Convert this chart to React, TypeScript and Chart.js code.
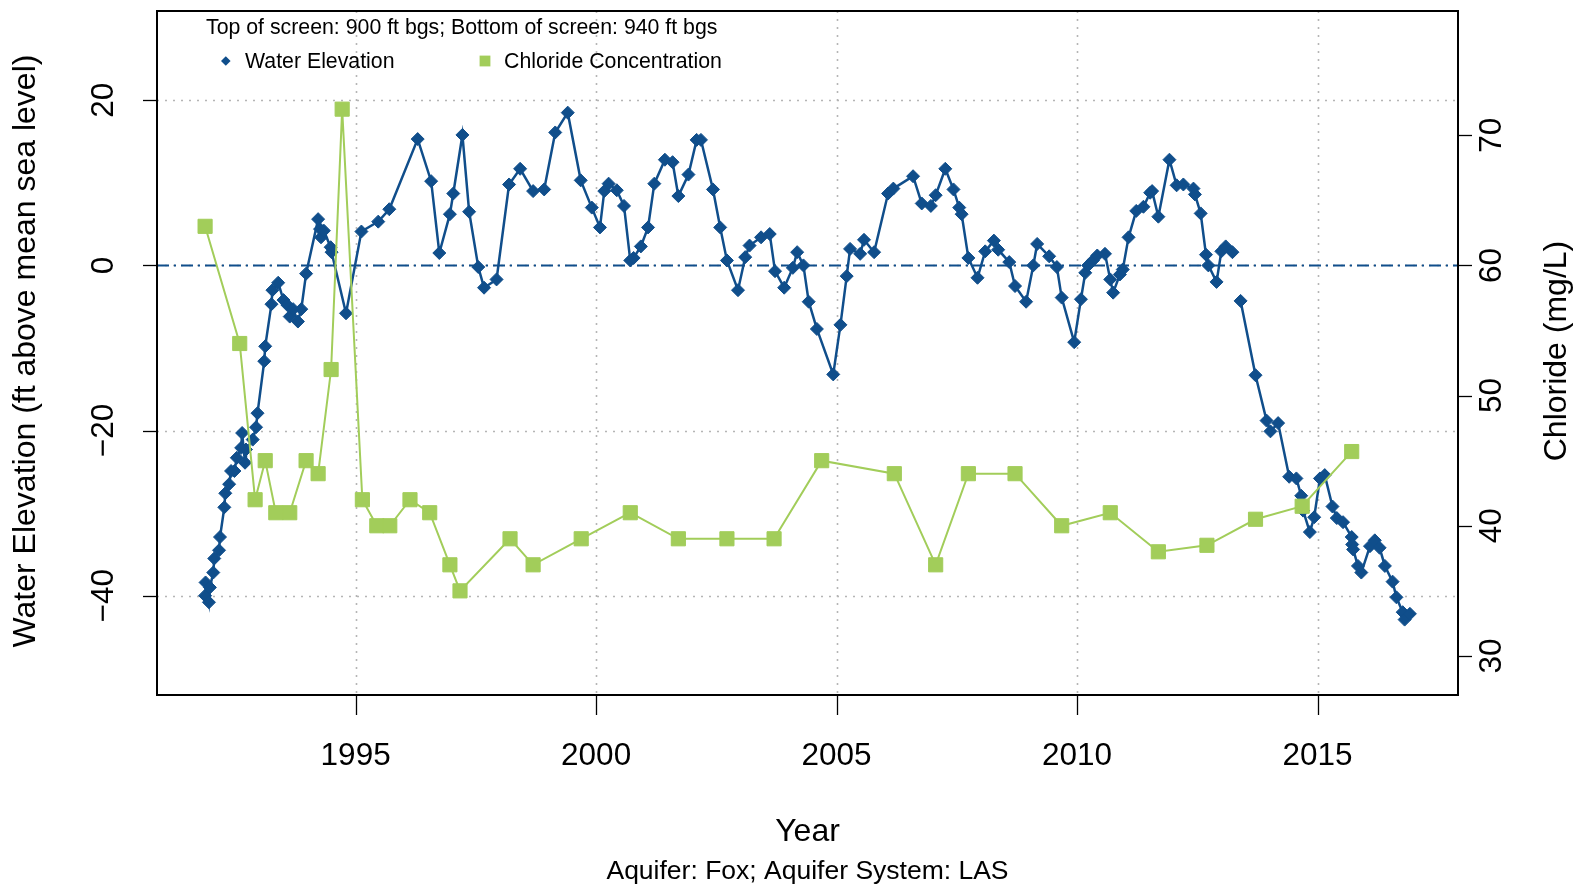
import React, { useEffect, useRef } from 'react';
import { Chart, registerables } from 'chart.js';

Chart.register(...registerables);

// ---- Data ----
const waterYears = [
  1991.87, 1991.88, 1991.95, 1991.97, 1992.04, 1992.06, 1992.16, 1992.18, 1992.27, 1992.29,
  1992.37, 1992.41, 1992.48, 1992.53, 1992.62, 1992.64, 1992.70, 1992.72, 1992.86, 1992.93,
  1992.96, 1993.10, 1993.12, 1993.25, 1993.27, 1993.39, 1993.50, 1993.58, 1993.63, 1993.70,
  1993.80, 1993.87, 1993.97, 1994.22, 1994.26, 1994.28, 1994.34, 1994.48, 1994.50, 1994.80,
  1995.12, 1995.47, 1995.70, 1996.29, 1996.57, 1996.74, 1996.96, 1997.03, 1997.22, 1997.36,
  1997.55, 1997.67, 1997.93, 1998.19, 1998.42, 1998.69, 1998.92, 1999.15, 1999.41, 1999.68,
  1999.91, 2000.08, 2000.17, 2000.26, 2000.43, 2000.58, 2000.71, 2000.78, 2000.93, 2001.08,
  2001.21, 2001.43, 2001.59, 2001.71, 2001.92, 2002.09, 2002.18, 2002.43, 2002.58, 2002.72,
  2002.95, 2003.10, 2003.19, 2003.43, 2003.61, 2003.72, 2003.91, 2004.09, 2004.18, 2004.31,
  2004.42, 2004.59, 2004.93, 2005.08, 2005.21, 2005.28, 2005.49, 2005.57, 2005.78, 2006.07,
  2006.18, 2006.59, 2006.77, 2006.96, 2007.06, 2007.26, 2007.43, 2007.55, 2007.60, 2007.74,
  2007.93, 2008.09, 2008.27, 2008.36, 2008.59, 2008.71, 2008.94, 2009.09, 2009.17, 2009.42,
  2009.58, 2009.68, 2009.94, 2010.08, 2010.17, 2010.23, 2010.33, 2010.42, 2010.58, 2010.69,
  2010.75, 2010.89, 2010.95, 2011.07, 2011.23, 2011.38, 2011.52, 2011.56, 2011.69, 2011.92,
  2012.07, 2012.21, 2012.42, 2012.45, 2012.57, 2012.68, 2012.73, 2012.90, 2013.00, 2013.09,
  2013.23, 2013.40, 2013.71, 2013.94, 2014.02, 2014.18, 2014.41, 2014.56, 2014.66, 2014.70,
  2014.84, 2014.93, 2015.05, 2015.15, 2015.31, 2015.40, 2015.53, 2015.71, 2015.72, 2015.74,
  2015.84, 2015.91, 2016.09, 2016.19, 2016.29, 2016.40, 2016.56, 2016.64, 2016.77, 2016.81,
  2016.92,
];
const waterLevels = [
  -40.0, -38.4, -40.8, -39.0, -37.2, -35.5, -34.5, -32.9, -29.3, -27.6,
  -26.5, -24.9, -24.9, -23.3, -22.1, -20.3, -23.9, -22.3, -21.1, -19.6,
  -17.9, -11.6, -9.8, -4.7, -3.0, -2.1, -4.2, -4.8, -6.2, -5.3,
  -6.8, -5.3, -1.0, 5.6, 4.4, 3.4, 4.2, 2.2, 1.6, -5.8,
  4.1, 5.3, 6.8, 15.3, 10.2, 1.5, 6.2, 8.7, 15.8, 6.5,
  -0.2, -2.7, -1.7, 9.8, 11.7, 9.0, 9.2, 16.1, 18.5, 10.3,
  7.0, 4.6, 9.0, 9.9, 9.1, 7.2, 0.6, 0.9, 2.3, 4.6,
  9.9, 12.8, 12.5, 8.4, 11.0, 15.2, 15.2, 9.2, 4.6, 0.6,
  -3.0, 1.0, 2.4, 3.4, 3.8, -0.7, -2.7, -0.3, 1.6, 0.0,
  -4.4, -7.7, -13.2, -7.2, -1.3, 2.0, 1.4, 3.1, 1.6, 8.7,
  9.3, 10.8, 7.5, 7.2, 8.5, 11.7, 9.2, 7.0, 6.2, 0.9,
  -1.5, 1.7, 3.0, 1.9, 0.4, -2.5, -4.4, 0.0, 2.6, 1.1,
  -0.2, -3.9, -9.3, -4.1, -0.9, 0.0, 0.6, 1.2, 1.4, -1.7,
  -3.3, -1.1, -0.5, 3.4, 6.6, 7.1, 8.8, 9.0, 5.9, 12.8,
  9.7, 9.8, 9.3, 8.6, 6.3, 1.3, 0.0, -2.0, 1.7, 2.3,
  1.6, -4.3, -13.3, -18.8, -20.1, -19.1, -25.6, -25.8, -27.9, -29.7,
  -32.3, -30.5, -25.8, -25.4, -29.2, -30.6, -31.1, -32.9, -33.8, -34.4,
  -36.4, -37.2, -34.0, -33.3, -34.2, -36.4, -38.3, -40.2, -42.0, -42.9,
  -42.2,
];
// the water-level line is not drawn across this date
const waterBreaks = [2013.3];

const chlorideYears = [
  1991.87, 1992.59, 1992.91, 1993.12, 1993.34, 1993.63, 1993.97, 1994.22, 1994.49, 1994.72,
  1995.14, 1995.44, 1995.71, 1996.13, 1996.54, 1996.96, 1997.17, 1998.21, 1998.69, 1999.69,
  2000.71, 2001.71, 2002.72, 2003.70, 2004.69, 2006.20, 2007.06, 2007.74, 2008.71, 2009.68,
  2010.69, 2011.69, 2012.70, 2013.71, 2014.68, 2015.71,
];
const chlorideValues = [
  63, 54, 42, 45, 41, 41, 45, 44, 52, 72,
  42, 40, 40, 42, 41, 37, 35, 39, 37, 39,
  41, 39, 39, 39, 45, 44, 37, 44, 44, 40,
  41, 38, 38.5, 40.5, 41.5, 45.7,
];

const xTicks = [1995, 2000, 2005, 2010, 2015];
const leftTicks = [-40, -20, 0, 20];
const rightTicks = [30, 40, 50, 60, 70];

const titleText = 'Top of screen: 900 ft bgs; Bottom of screen: 940 ft bgs';
const waterLabel = 'Water Elevation';
const chlorideLabel = 'Chloride Concentration';
const xTitle = 'Year';
const yTitle = 'Water Elevation (ft above mean sea level)';
const y2Title = 'Chloride (mg/L)';
const subTitle = 'Aquifer: Fox; Aquifer System: LAS';

const BLUE = '#104E8B';
const GREEN = '#A2CD5A';
const FONT = '"Liberation Sans", Arial, Helvetica, sans-serif';

const fmt = (v: number) => (v < 0 ? '\u2212' + Math.abs(v) : String(v));

const rPlugin = {
  id: 'rstyle',
  beforeDatasetsDraw(chart: any) {
    const { ctx, chartArea: a, scales } = chart;
    const sx = scales.x;
    const sy = scales.y;
    ctx.save();
    ctx.strokeStyle = '#b5b5b5';
    ctx.lineWidth = 1.6;
    ctx.setLineDash([2, 6]);
    for (const t of xTicks) {
      const px = Math.round(sx.getPixelForValue(t)) + 0.5;
      ctx.beginPath();
      ctx.moveTo(px, a.top);
      ctx.lineTo(px, a.bottom);
      ctx.stroke();
    }
    for (const t of leftTicks) {
      const py = Math.round(sy.getPixelForValue(t)) + 0.5;
      ctx.beginPath();
      ctx.moveTo(a.left, py);
      ctx.lineTo(a.right, py);
      ctx.stroke();
    }
    // dash-dot reference line at 0
    const p0 = Math.round(sy.getPixelForValue(0)) + 0.5;
    ctx.strokeStyle = BLUE;
    ctx.lineWidth = 2;
    ctx.setLineDash([12, 5, 2, 5]);
    ctx.beginPath();
    ctx.moveTo(a.left, p0);
    ctx.lineTo(a.right, p0);
    ctx.stroke();
    ctx.restore();
  },
  afterDraw(chart: any) {
    const { ctx, chartArea: a, scales } = chart;
    const sx = scales.x;
    const sy = scales.y;
    const sy2 = scales.y2;
    ctx.save();
    ctx.setLineDash([]);
    ctx.strokeStyle = '#000';
    ctx.fillStyle = '#000';
    // box
    ctx.lineWidth = 2;
    ctx.strokeRect(a.left, a.top, a.right - a.left, a.bottom - a.top);
    // ticks
    ctx.lineWidth = 1.3;
    for (const t of xTicks) {
      const px = Math.round(sx.getPixelForValue(t)) + 0.5;
      ctx.beginPath();
      ctx.moveTo(px, a.bottom);
      ctx.lineTo(px, a.bottom + 20);
      ctx.stroke();
    }
    for (const t of leftTicks) {
      const py = Math.round(sy.getPixelForValue(t)) + 0.5;
      ctx.beginPath();
      ctx.moveTo(a.left, py);
      ctx.lineTo(a.left - 14, py);
      ctx.stroke();
    }
    for (const t of rightTicks) {
      const py = Math.round(sy2.getPixelForValue(t)) + 0.5;
      ctx.beginPath();
      ctx.moveTo(a.right, py);
      ctx.lineTo(a.right + 14, py);
      ctx.stroke();
    }
    // x tick labels
    ctx.font = `31.5px ${FONT}`;
    ctx.textAlign = 'center';
    ctx.textBaseline = 'alphabetic';
    for (const t of xTicks) {
      ctx.fillText(String(t), sx.getPixelForValue(t), 765);
    }
    const rotText = (txt: string, baseX: number, cy: number) => {
      ctx.save();
      ctx.translate(baseX, cy);
      ctx.rotate(-Math.PI / 2);
      ctx.textAlign = 'center';
      ctx.textBaseline = 'alphabetic';
      ctx.fillText(txt, 0, 0);
      ctx.restore();
    };
    for (const t of leftTicks) {
      rotText(fmt(t), 113, sy.getPixelForValue(t));
    }
    for (const t of rightTicks) {
      rotText(String(t), 1501, sy2.getPixelForValue(t));
    }
    ctx.font = `32px ${FONT}`;
    const cy = (a.top + a.bottom) / 2;
    rotText(yTitle, 35, cy - 2);
    rotText(y2Title, 1566, cy - 2);
    const cx = (a.left + a.right) / 2;
    ctx.textAlign = 'center';
    ctx.fillText(xTitle, cx, 841);
    ctx.font = `26.5px ${FONT}`;
    ctx.fillText(subTitle, cx, 879);

    // legend
    ctx.font = `21.3px ${FONT}`;
    ctx.textAlign = 'left';
    ctx.fillText(titleText, 206, 34);
    ctx.fillText(waterLabel, 245, 68);
    ctx.fillText(chlorideLabel, 504, 68);
    ctx.fillStyle = BLUE;
    ctx.beginPath();
    ctx.moveTo(225.8 - 4.8, 61);
    ctx.lineTo(225.8, 61 - 4.8);
    ctx.lineTo(225.8 + 4.8, 61);
    ctx.lineTo(225.8, 61 + 4.8);
    ctx.closePath();
    ctx.fill();
    ctx.fillStyle = GREEN;
    ctx.fillRect(485 - 5.4, 61 - 5.4, 10.8, 10.8);
    ctx.restore();
  },
};

export default function App() {
  const ref = useRef<HTMLCanvasElement>(null);
  useEffect(() => {
    const waterData = waterYears.map((x, i) => ({ x, y: waterLevels[i] }));
    const chlorideData = chlorideYears.map((x, i) => ({ x, y: chlorideValues[i] }));
    const chart = new Chart(ref.current as HTMLCanvasElement, {
      type: 'line',
      data: {
        datasets: [
          {
            label: waterLabel,
            data: waterData,
            yAxisID: 'y',
            borderColor: BLUE,
            backgroundColor: BLUE,
            borderWidth: 2.5,
            pointStyle: 'rectRot',
            pointRadius: 6.5,
            pointBorderWidth: 1,
            pointBorderColor: BLUE,
            pointBackgroundColor: BLUE,
            tension: 0,
            order: 2,
            segment: {
              borderColor: (c: any) =>
                waterBreaks.some((b) => c.p0.parsed.x < b && c.p1.parsed.x > b)
                  ? 'rgba(0,0,0,0)'
                  : undefined,
            },
          } as any,
          {
            label: chlorideLabel,
            data: chlorideData,
            yAxisID: 'y2',
            borderColor: GREEN,
            backgroundColor: GREEN,
            borderWidth: 2,
            pointStyle: 'rect',
            pointRadius: 10,
            pointBorderWidth: 1,
            pointBorderColor: GREEN,
            pointBackgroundColor: GREEN,
            tension: 0,
            order: 1,
          } as any,
        ],
      },
      options: {
        responsive: false,
        animation: false,
        devicePixelRatio: 1,
        layout: { padding: { left: 157, right: 125, top: 8, bottom: 193 } },
        plugins: { legend: { display: false }, tooltip: { enabled: false } },
        scales: {
          x: { type: 'linear', min: 1990.87, max: 2017.92, display: false },
          y: { type: 'linear', min: -52.03, max: 30.81, display: false },
          y2: { type: 'linear', min: 27.0, max: 79.54, display: false },
        },
        elements: { line: { tension: 0 } },
      },
      plugins: [rPlugin],
    });
    return () => chart.destroy();
  }, []);
  return (
    <div style={{ position: 'fixed', left: 0, top: 0, width: 1583, height: 888, background: '#fff' }}>
      <canvas ref={ref} width={1583} height={888} style={{ width: 1583, height: 888, display: 'block' }} />
    </div>
  );
}
